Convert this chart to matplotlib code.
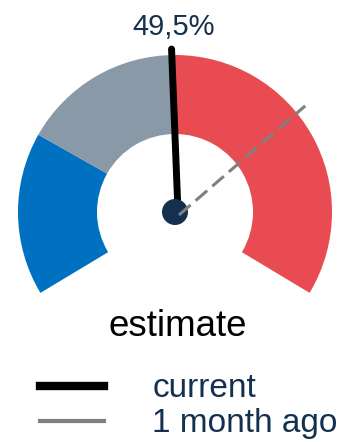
import matplotlib
matplotlib.use("Agg")
import matplotlib.pyplot as plt
from matplotlib.patches import Wedge, Circle
from matplotlib.lines import Line2D
import numpy as np

# gauge data (percent)
segment_sizes = [25, 25, 50]
segment_colors = ["#0070C0", "#8A99A8", "#E84C52"]
current_value = 49.5
previous_value = 71.0
value_label = "49,5%"
gauge_title = "estimate"
legend_labels = ["current", "1 month ago"]

navy = "#14304F"
start_angle = 211.0   # degrees, where 0% sits
sweep = 242.0         # total arc of the gauge

def to_angle(pct):
    return start_angle - sweep * pct / 100.0

plt.rcParams["font.family"] = ["Liberation Sans", "DejaVu Sans"]

fig = plt.figure(figsize=(3.52, 4.42), dpi=100)
ax = fig.add_axes([0, 0, 1, 1])
ax.set_xlim(0, 352)
ax.set_ylim(0, 442)
ax.set_aspect("equal")
ax.axis("off")

cx, cy = 175, 230
r_out, r_in = 157, 78

# coloured bands
pos = 0
for size, color in zip(segment_sizes, segment_colors):
    a1 = to_angle(pos + size)
    a2 = to_angle(pos)
    ax.add_patch(Wedge((cx, cy), r_out, a1, a2, width=r_out - r_in,
                       facecolor=color, edgecolor="none", zorder=1))
    pos += size

# current needle
a = np.radians(to_angle(current_value))
ax.plot([cx + 3, cx + 163 * np.cos(a)], [cy, cy + 163 * np.sin(a)],
        color="black", lw=5, solid_capstyle="round", zorder=2)

# hub
ax.add_patch(Circle((cx, cy), 13, facecolor=navy, edgecolor="none", zorder=3))

# previous value
b = np.radians(to_angle(previous_value))
ax.plot([cx + 4, cx + 168 * np.cos(b)], [cy - 3, cy + 168 * np.sin(b)],
        color="#808080", lw=2.2, dashes=(5, 2.2), zorder=4)

ax.text(cx - 1, 407, value_label, ha="center", va="baseline",
        fontsize=21, color=navy)
ax.text(178, 106, gauge_title, ha="center", va="baseline",
        fontsize=26.5, color="black")

handles = [Line2D([], [], color="black", lw=6),
           Line2D([], [], color="#808080", lw=3)]
leg = ax.legend(handles, legend_labels, loc="upper left",
                bbox_to_anchor=(0.115, 0.155), frameon=False, fontsize=24,
                handlelength=1.9, handletextpad=1.45, labelspacing=0.12,
                borderpad=0, borderaxespad=0)
for t in leg.get_texts():
    t.set_color(navy)

fig.savefig("out.png", dpi=100)
